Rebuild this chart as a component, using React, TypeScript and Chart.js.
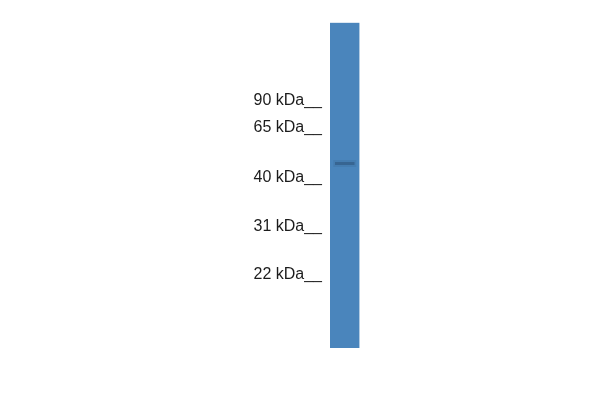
import { useEffect, useRef } from 'react'
import { Chart, registerables } from 'chart.js'

Chart.register(...registerables)

// marker ladder (kDa) and how far each ran down the lane (0 = top of lane, 100 = bottom)
const markerLabels = ['90 kDa', '65 kDa', '40 kDa', '31 kDa', '22 kDa']
const markerPositions = [23.8, 32.1, 47.7, 62.6, 77.4]

const laneNames = ['Sample']
const laneRange: [number, number][] = [[0, 100]]

// detected band, in the same migration units
const bandPositions = [43.3]
const bandHalfWidth = 0.45

const App = () => {
  const canvasRef = useRef<HTMLCanvasElement>(null)
  const chartRef = useRef<Chart | null>(null)

  useEffect(() => {
    if (!canvasRef.current) return
    if (chartRef.current) chartRef.current.destroy()

    chartRef.current = new Chart(canvasRef.current, {
      type: 'bar',
      data: {
        labels: laneNames,
        datasets: [
          {
            label: 'band glow',
            data: bandPositions.map(p => [p - bandHalfWidth * 2.4, p + bandHalfWidth * 2.4]) as any,
            backgroundColor: 'rgba(50, 90, 130, 0.18)',
            barPercentage: 0.78,
            categoryPercentage: 1,
            grouped: false,
            order: 1
          },
          {
            label: 'band',
            data: bandPositions.map(p => [p - bandHalfWidth, p + bandHalfWidth]) as any,
            backgroundColor: 'rgba(42, 78, 115, 0.5)',
            barPercentage: 0.66,
            categoryPercentage: 1,
            grouped: false,
            order: 0
          },
          {
            label: 'lane',
            data: laneRange as any,
            backgroundColor: '#4a85bc',
            barPercentage: 1,
            categoryPercentage: 1,
            grouped: false,
            order: 2
          }
        ]
      },
      options: {
        animation: false,
        responsive: true,
        maintainAspectRatio: false,
        layout: {
          padding: { left: 250, right: 240.5, top: 22.7, bottom: 52 }
        },
        plugins: {
          legend: { display: false },
          tooltip: { enabled: false }
        },
        scales: {
          x: { display: false },
          y: {
            reverse: true,
            min: 0,
            max: 100,
            grid: { display: false, drawTicks: false },
            border: { display: false },
            afterBuildTicks: (scale: any) => {
              scale.ticks = markerPositions.map(v => ({ value: v }))
            },
            afterFit: (scale: any) => {
              scale.width = 80
            },
            ticks: {
              padding: 8,
              color: '#1c1c1c',
              font: { family: "'Liberation Sans', Arial, sans-serif", size: 16 },
              callback: (value: any) => {
                const i = markerPositions.indexOf(Number(value))
                return i >= 0 ? `${markerLabels[i]}__` : ''
              }
            }
          }
        }
      }
    })

    return () => {
      if (chartRef.current) {
        chartRef.current.destroy()
        chartRef.current = null
      }
    }
  }, [])

  return (
    <div style={{ position: 'absolute', left: 0, top: 0, width: 600, height: 400, background: '#fff' }}>
      <canvas ref={canvasRef}></canvas>
    </div>
  )
}

export default App
